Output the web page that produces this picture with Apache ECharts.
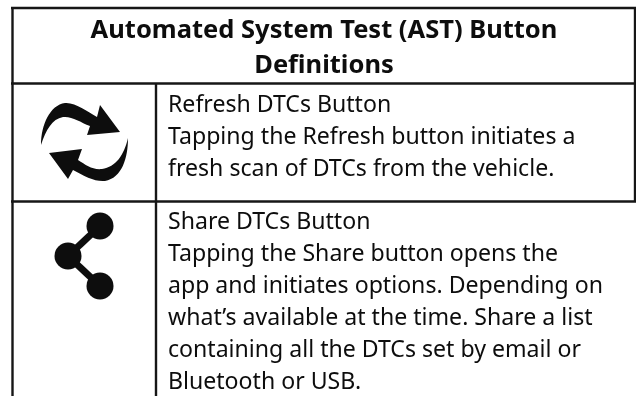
<!DOCTYPE html>
<html><head><meta charset="utf-8">
<style>html,body{margin:0;padding:0;background:#fff}#c{width:636px;height:396px}</style>
<script src="https://cdn.jsdelivr.net/npm/echarts@6/dist/echarts.min.js"></script>
</head><body><div id="c"></div>
<script>
var titleLines = ['Automated System Test (AST) Button', 'Definitions'];
var refreshLines = ['Refresh DTCs Button', 'Tapping the Refresh button initiates a', 'fresh scan of DTCs from the vehicle.'];
var shareLines = ['Share DTCs Button', 'Tapping the Share button opens the', 'app and initiates options. Depending on', 'what\u2019s available at the time. Share a list', 'containing all the DTCs set by email or', 'Bluetooth or USB.'];
var ink = '#0d0d0d', lineInk = '#161616', font = '"Noto Sans"';
var els = [];
function ln(x1,y1,x2,y2){els.push({type:'line',silent:true,shape:{x1:x1,y1:y1,x2:x2,y2:y2},style:{stroke:lineInk,lineWidth:2.4}});}
ln(11,8,636,8); ln(11,83.5,636,83.5); ln(11,201.5,636,201.5);
ln(12.5,8,12.5,396); ln(156,84,156,396); ln(635,8,635,202);
function txt(s,x,y,size,weight,align){els.push({type:'text',silent:true,x:x,y:y,style:{text:s,fill:ink,font:weight+' '+size+'px '+font,textAlign:align,textVerticalAlign:'middle'}});}
titleLines.forEach(function(s,i){txt(s,324,30.5+i*35.5,25.5,'bold','center');});
refreshLines.forEach(function(s,i){txt(s,168,105+i*32,23.1,'normal','left');});
shareLines.forEach(function(s,i){txt(s,168,222+i*32,23.1,'normal','left');});
echarts.graphic.registerShape('arrowA', echarts.graphic.extendPath('M41 145 C41 125 50 105 65 103 C75 102 88 112 97 117 L100 105 L120 132 L87 135 L90 126 C80 122 72 116 63 117 C52 119 46 130 41 145 Z',{}));
echarts.graphic.registerShape('arrowB', echarts.graphic.extendPath('M128 138 C128 158 122 178 105 181 C95 182 84 176 73 170 L68 179 L49 153 L82 149 L78 160 C86 165 92 170 102 169 C116 167 124 155 128 138 Z',{}));
els.push({type:'arrowA',silent:true,style:{fill:ink}});
els.push({type:'arrowB',silent:true,style:{fill:ink}});
[[100,226,68,256],[68,256,100,286]].forEach(function(p){els.push({type:'line',silent:true,shape:{x1:p[0],y1:p[1],x2:p[2],y2:p[3]},style:{stroke:ink,lineWidth:7}});});
[[100,226],[68,256],[100,286]].forEach(function(p){els.push({type:'circle',silent:true,shape:{cx:p[0],cy:p[1],r:13.5},style:{fill:ink}});});
var chart = echarts.init(document.getElementById('c'),null,{renderer:'canvas'});
chart.setOption({animation:false,backgroundColor:'#fff',graphic:{elements:els}});
</script></body></html>
